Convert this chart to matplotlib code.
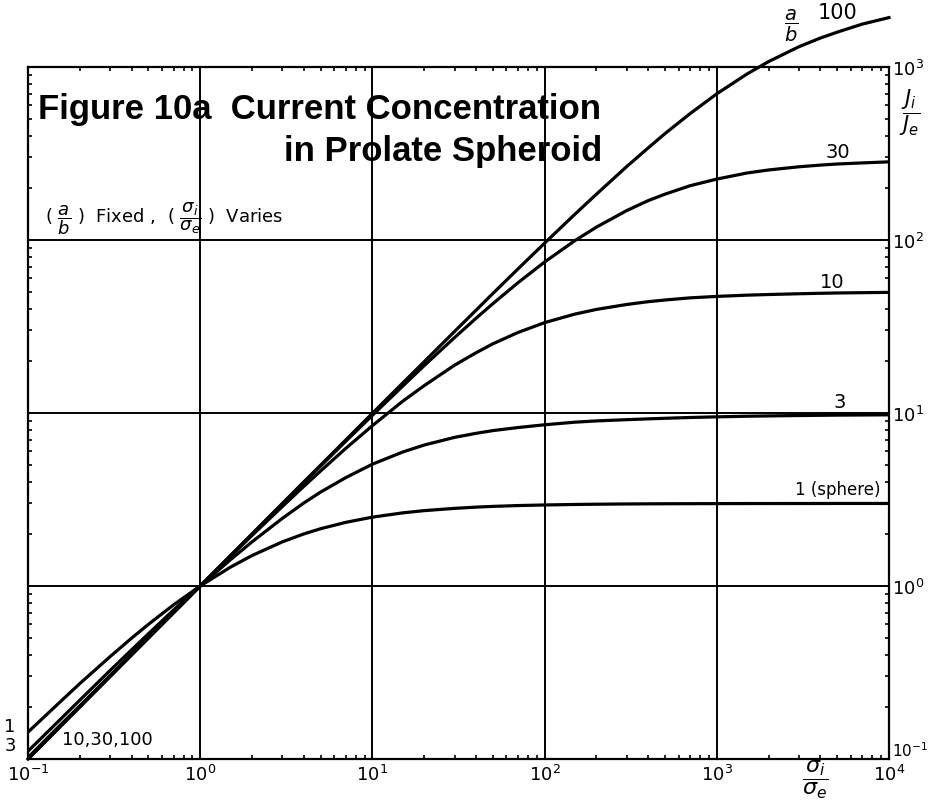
import matplotlib
matplotlib.use("Agg")
import matplotlib.pyplot as plt
from matplotlib.ticker import LogLocator, NullFormatter

# conductivity ratio sigma_i / sigma_e (x axis)
sigma = [0.1, 0.15, 0.2, 0.3, 0.4, 0.5, 0.7,
         1, 1.5, 2, 3, 4, 5, 7,
         10, 15, 20, 30, 40, 50, 70,
         100, 150, 200, 300, 400, 500, 700,
         1000, 1500, 2000, 3000, 4000, 5000, 7000, 10000]

# current ratio J_i / J_e for each a/b
j_sphere = [0.143, 0.209, 0.273, 0.391, 0.5, 0.6, 0.778,
            1.0, 1.286, 1.5, 1.8, 2.0, 2.143, 2.333,
            2.5, 2.647, 2.727, 2.81, 2.857, 2.885, 2.917,
            2.94, 2.96, 2.97, 2.98, 2.985, 2.988, 2.991,
            2.994, 2.996, 2.997, 2.998, 2.999, 3.0, 3.0, 3.0]
j_3 = [0.111, 0.165, 0.219, 0.325, 0.428, 0.529, 0.727,
       1.0, 1.42, 1.80, 2.46, 3.02, 3.49, 4.23,
       5.06, 5.95, 6.53, 7.23, 7.63, 7.91, 8.24,
       8.55, 8.85, 9.0, 9.15, 9.25, 9.32, 9.42,
       9.5, 9.58, 9.62, 9.67, 9.7, 9.72, 9.74, 9.76]
j_10 = [0.102, 0.153, 0.203, 0.304, 0.405, 0.505, 0.704,
        1.0, 1.485, 1.96, 2.88, 3.77, 4.62, 6.24,
        8.45, 11.7, 14.4, 18.9, 22.3, 25.1, 29.2,
        33.3, 37.3, 39.7, 42.4, 44.0, 45.0, 46.3,
        47.2, 48.0, 48.4, 48.9, 49.2, 49.4, 49.6, 49.8]
j_30 = [0.1, 0.15, 0.2, 0.3, 0.4, 0.5, 0.7,
        1.0, 1.497, 1.993, 2.98, 3.96, 4.93, 6.86,
        9.70, 14.3, 18.8, 27.3, 35.3, 42.8, 56.6,
        74.6, 99.2, 118.7, 148, 169, 184, 206,
        225, 244, 254, 265, 271, 275, 279, 283]
j_100 = [0.1, 0.15, 0.2, 0.3, 0.4, 0.5, 0.7,
         1.0, 1.5, 2.0, 3.0, 4.0, 4.99, 6.98,
         9.96, 14.9, 19.8, 29.6, 39.3, 49.0, 68.0,
         95.9, 141, 184, 266, 341, 412, 538,
         700, 912, 1075, 1310, 1471, 1590, 1770, 1930]

x_ticks = [0.1, 1, 10, 100, 1000, 10000]
x_labels = [r"$10^{-1}$", r"$10^{0}$", r"$10^{1}$", r"$10^{2}$", r"$10^{3}$", r"$10^{4}$"]
y_ticks = [0.1, 1, 10, 100, 1000]
y_labels = [r"$10^{-1}$", r"$10^{0}$", r"$10^{1}$", r"$10^{2}$", r"$10^{3}$"]

W, H = 929, 812


def px(x, y):
    # pixel position -> figure fraction
    return x / W, 1 - y / H


plt.rcParams["mathtext.fontset"] = "dejavusans"
fig = plt.figure(figsize=(W / 100, H / 100), dpi=100)
ax = fig.add_axes([28 / W, 1 - 760 / H, (889 - 28) / W, (760 - 68) / H])
ax.set_xscale("log")
ax.set_yscale("log")
ax.set_xlim(0.1, 10000)
ax.set_ylim(0.1, 1000)

for ys in [j_sphere, j_3, j_10, j_30]:
    ax.plot(sigma, ys, color="black", lw=2.3, solid_joinstyle="round")
ax.plot(sigma, j_100, color="black", lw=2.3, clip_on=False, solid_joinstyle="round")

ax.grid(True, which="major", color="black", lw=1.4)
for s in ax.spines.values():
    s.set_linewidth(1.6)

ax.set_xticks(x_ticks)
ax.set_xticklabels(x_labels, fontsize=13)
ax.set_yticks(y_ticks)
ax.set_yticklabels(y_labels, fontsize=13)
ax.yaxis.tick_right()
ax.xaxis.set_minor_locator(LogLocator(base=10, subs=range(2, 10)))
ax.yaxis.set_minor_locator(LogLocator(base=10, subs=range(2, 10)))
ax.xaxis.set_minor_formatter(NullFormatter())
ax.yaxis.set_minor_formatter(NullFormatter())
ax.tick_params(which="major", length=0)
ax.tick_params(axis="y", which="major", pad=2)
ax.tick_params(which="minor", direction="in", length=3, width=1.2,
               top=True, bottom=True, left=True, right=True)
low = ax.yaxis.get_ticklabels()[0]
low.set_va("bottom")
low.set_fontsize(11)

# titles
fig.text(*px(38, 110), "Figure 10a  Current Concentration", fontsize=25,
         fontweight="bold", family="Liberation Sans", va="center", ha="left")
fig.text(*px(602, 151), "in Prolate Spheroid", fontsize=25,
         fontweight="bold", family="Liberation Sans", va="center", ha="right")
fig.text(*px(45, 219),
         r"( $\dfrac{a}{b}$ )  Fixed ,  ( $\dfrac{\sigma_i}{\sigma_e}$ )  Varies",
         fontsize=13, va="center", ha="left")

# axis labels
fig.text(*px(910, 113), r"$\dfrac{J_i}{J_e}$", fontsize=15, va="center", ha="center")
fig.text(*px(815, 780), r"$\dfrac{\sigma_i}{\sigma_e}$", fontsize=16, va="center", ha="center")

# curve labels
fig.text(*px(791, 26), r"$\dfrac{a}{b}$", fontsize=14, va="center", ha="center")
fig.text(*px(818, 13), "100", fontsize=15, va="center", ha="left")
fig.text(*px(838, 152), "30", fontsize=14, va="center", ha="center")
fig.text(*px(832, 283), "10", fontsize=14, va="center", ha="center")
fig.text(*px(840, 403), "3", fontsize=14, va="center", ha="center")
fig.text(*px(838, 490), "1 (sphere)", fontsize=12, va="center", ha="center")
fig.text(*px(10, 727), "1", fontsize=13, va="center", ha="center")
fig.text(*px(10, 746), "3", fontsize=13, va="center", ha="center")
fig.text(*px(62, 740), "10,30,100", fontsize=13, va="center", ha="left")

fig.savefig("out.png", dpi=100)
